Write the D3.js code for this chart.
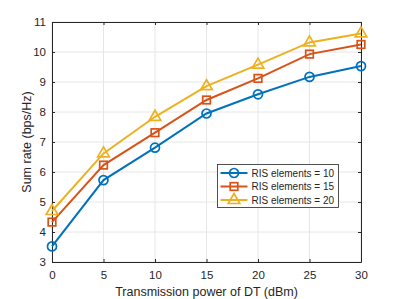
<!DOCTYPE html>
<html lang="en">
<head>
<meta charset="UTF-8">
<title>Sum rate vs transmission power</title>
<script src="https://d3js.org/d3.v7.min.js"></script>
<style>
    body { margin: 0; background: #fff; }
    text { font-family: "Liberation Sans", Arial, sans-serif; fill: #262626; }
</style>
</head>
<body>
<script>
    // data
    var powerDbm = [0, 5, 10, 15, 20, 25, 30];
    var ris10 = [3.52, 5.73, 6.81, 7.95, 8.59, 9.17, 9.53];
    var ris15 = [4.33, 6.23, 7.31, 8.40, 9.12, 9.93, 10.25];
    var ris20 = [4.70, 6.62, 7.84, 8.86, 9.58, 10.32, 10.62];
    var seriesNames = ["RIS elements = 10", "RIS elements = 15", "RIS elements = 20"];
    var xTicks = [0, 5, 10, 15, 20, 25, 30];
    var yTicks = [3, 4, 5, 6, 7, 8, 9, 10, 11];

    var series = [
        { name: seriesNames[0], values: ris10, color: "#0072BD", marker: "circle" },
        { name: seriesNames[1], values: ris15, color: "#D95319", marker: "square" },
        { name: seriesNames[2], values: ris20, color: "#EDB120", marker: "triangle" }
    ];

    var W = 399, H = 299;
    var margin = { top: 22, right: 38, bottom: 37, left: 52 };
    var width = W - margin.left - margin.right,
        height = H - margin.top - margin.bottom;

    var svg = d3.select("body").append("svg")
        .attr("width", W)
        .attr("height", H);
    var g = svg.append("g")
        .attr("transform", "translate(" + margin.left + "," + margin.top + ")");

    var x = d3.scaleLinear().domain([0, 30]).range([0, width]);
    var y = d3.scaleLinear().domain([3, 11]).range([height, 0]);

    // grid
    g.append("g").selectAll("line").data(xTicks).enter().append("line")
        .attr("x1", d => x(d)).attr("x2", d => x(d))
        .attr("y1", 0).attr("y2", height)
        .attr("stroke", "#e6e6e6").attr("stroke-width", 1);
    g.append("g").selectAll("line").data(yTicks).enter().append("line")
        .attr("x1", 0).attr("x2", width)
        .attr("y1", d => y(d)).attr("y2", d => y(d))
        .attr("stroke", "#e6e6e6").attr("stroke-width", 1);

    // axes, ticks pointing inwards (matlab style)
    function styleAxis(sel) {
        sel.select(".domain").attr("stroke", "#262626");
        sel.selectAll(".tick line").attr("stroke", "#262626");
        sel.selectAll(".tick text").style("font-size", "11.5px").attr("fill", "#262626");
    }
    g.append("g").attr("transform", "translate(0," + height + ")")
        .call(d3.axisBottom(x).tickValues(xTicks).tickSizeInner(-3).tickSizeOuter(0).tickPadding(9))
        .call(styleAxis);
    g.append("g")
        .call(d3.axisLeft(y).tickValues(yTicks).tickSizeInner(-3).tickSizeOuter(0).tickPadding(6))
        .call(styleAxis);
    g.append("g")
        .call(d3.axisTop(x).tickValues(xTicks).tickSizeInner(-3).tickSizeOuter(0).tickFormat(""))
        .call(styleAxis);
    g.append("g").attr("transform", "translate(" + width + ",0)")
        .call(d3.axisRight(y).tickValues(yTicks).tickSizeInner(-3).tickSizeOuter(0).tickFormat(""))
        .call(styleAxis);

    var line = d3.line()
        .x((d, i) => x(powerDbm[i]))
        .y(d => y(d));

    function drawMarker(sel, type, color) {
        if (type === "circle") {
            sel.append("circle").attr("r", 4.5);
        } else if (type === "square") {
            sel.append("rect").attr("x", -3.8).attr("y", -3.8).attr("width", 7.6).attr("height", 7.6);
        } else {
            sel.append("path").attr("d", "M0,-6.5L5.8,3.5L-5.8,3.5Z");
        }
        sel.selectAll("*")
            .attr("fill", "none")
            .attr("stroke", color)
            .attr("stroke-width", 1.7);
    }

    series.forEach(function(s) {
        g.append("path")
            .datum(s.values)
            .attr("fill", "none")
            .attr("stroke", s.color)
            .attr("stroke-width", 2)
            .attr("d", line);
        s.values.forEach(function(v, i) {
            var m = g.append("g")
                .attr("transform", "translate(" + x(powerDbm[i]) + "," + y(v) + ")");
            drawMarker(m, s.marker, s.color);
        });
    });

    // axis labels
    svg.append("text")
        .attr("x", margin.left + width / 2)
        .attr("y", 296)
        .attr("text-anchor", "middle")
        .style("font-size", "12.5px")
        .text("Transmission power of DT (dBm)");
    svg.append("text")
        .attr("transform", "translate(30.5," + (margin.top + height / 2) + ") rotate(-90)")
        .attr("text-anchor", "middle")
        .style("font-size", "12.5px")
        .text("Sum rate (bps/Hz)");

    // legend
    var legend = svg.append("g").attr("transform", "translate(217.5,164.5)");
    legend.append("rect")
        .attr("width", 121).attr("height", 43)
        .attr("fill", "#fff").attr("stroke", "#262626").attr("stroke-width", 0.8);
    var entry = legend.selectAll(".entry").data(series).enter().append("g")
        .attr("class", "entry")
        .attr("transform", (d, i) => "translate(0," + (8.5 + i * 13.5) + ")");
    entry.append("line")
        .attr("x1", 3).attr("x2", 30)
        .attr("stroke", d => d.color).attr("stroke-width", 2);
    entry.each(function(d) {
        var m = d3.select(this).append("g").attr("transform", "translate(16.5,0)");
        drawMarker(m, d.marker, d.color);
    });
    entry.append("text")
        .attr("x", 34)
        .attr("dy", "0.35em")
        .style("font-size", "10px")
        .text(d => d.name);
</script>
</body>
</html>
